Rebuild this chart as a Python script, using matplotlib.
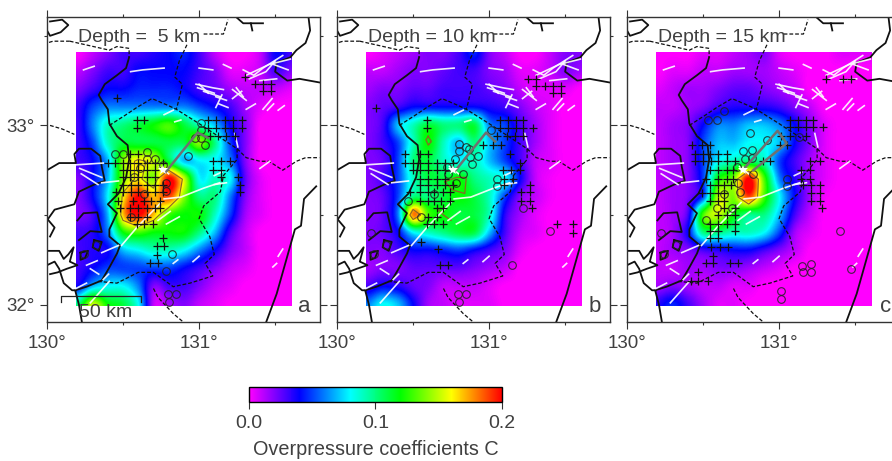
#!/usr/bin/env python3
"""
Overpressure coefficients at three depths, Kumamoto area map panels
"""

import numpy as np
import matplotlib
matplotlib.use('Agg')
import matplotlib.pyplot as plt
from matplotlib.cm import ScalarMappable
from matplotlib.colors import LinearSegmentedColormap, Normalize
from matplotlib.patches import Rectangle

plt.rcParams['font.family'] = ['Liberation Sans', 'DejaVu Sans']

# grid of the coloured field, values in units of 0.01, first row is the north one
grid_lons = [130.2, 130.3, 130.4, 130.5, 130.6, 130.7, 130.8, 130.9, 131.0, 131.1, 131.2, 131.3, 131.4, 131.5, 131.6]
grid_lats = [33.4, 33.3, 33.2, 33.1, 33.0, 32.9, 32.8, 32.7, 32.6, 32.5, 32.4, 32.3, 32.2, 32.1, 32.0]

field_a = [
    [0, 1, 2, 3, 3, 3.5, 4, 4.5, 3, 1, 0, 0, 1, 4, 3],
    [1, 2, 3, 3, 4, 4, 4, 4, 3, 2, 0.5, 0.5, 1, 3, 2],
    [2, 3, 4, 4, 4.5, 4.5, 4.5, 4, 3, 2.5, 1.5, 1, 1, 1, 0.5],
    [3, 5, 6, 6, 6, 6, 6, 6, 5, 4, 3, 1.5, 0.5, 0, 0],
    [3, 6, 9, 10, 11, 12, 13, 11, 9, 7, 4, 2, 0, 0, 0],
    [3, 5, 9, 11, 11, 11, 11, 11, 14, 10, 5, 2, 0, 0, 0],
    [3, 4, 7, 14, 16, 15, 11, 7, 8, 8, 6, 2, 0, 0, 0],
    [2, 4, 7, 14, 16, 14, 20, 15, 8, 9, 8, 2.5, 0.5, 0, 0],
    [2, 4, 8, 16, 20, 17, 19, 14, 10, 10, 6, 2, 0.5, 0, 0],
    [2, 3, 7, 17, 20, 17, 13, 12, 12, 9, 5, 1.5, 0.5, 0, 0],
    [3, 3.5, 6, 12, 13, 12, 12, 12, 10, 7, 3, 1, 0, 0, 0],
    [3, 3.5, 4, 7, 8, 9, 9, 8, 6, 4, 2, 1, 0, 0, 0],
    [3, 4, 5, 5, 5, 5, 5, 4, 3, 2, 1, 0.5, 0, 0, 0],
    [4, 7, 8, 8, 6, 2, 3, 3, 2, 1, 0.5, 0, 0, 0, 0],
    [10, 15, 12, 11, 8, 1, 1.5, 2, 1, 0.5, 0, 0, 0, 0, 0],
]
field_b = [
    [0, 0.5, 1, 1.5, 2, 2, 3, 4.5, 2, 1, 0, 0, 1, 2, 2],
    [1, 1, 1.5, 2, 2, 2.5, 3, 3, 2, 1.5, 0.5, 0.5, 1, 2, 1.5],
    [1.5, 2, 2, 2.5, 2.5, 3, 3, 3, 2.5, 2, 1, 0.5, 0.5, 0.5, 0],
    [2, 2.5, 3, 4, 4, 4, 4, 4, 3.5, 3, 2, 1, 0.5, 0, 0],
    [2, 3, 7, 9, 11, 10, 10, 11, 6, 5, 3, 1.5, 0.5, 0, 0],
    [2, 3, 5, 9, 12, 9, 7, 10, 7, 5, 3, 1.5, 0.5, 0, 0],
    [2, 2.5, 5, 10, 11, 9, 8, 9, 7, 5, 3, 1, 0.5, 0, 0],
    [2, 3, 5, 9, 11, 11, 12, 10, 9, 8, 4, 1, 0.2, 0, 0],
    [2, 2.5, 5, 10, 10, 11, 12, 11, 9, 5, 2, 1, 0.2, 0, 0],
    [2, 2.5, 6, 18, 13, 12, 11, 11, 9, 3.5, 1.5, 0.5, 0, 0, 0],
    [2, 2.5, 4, 8, 9, 10, 11, 11, 7, 3, 1, 0.5, 0, 0, 0],
    [2, 2, 3, 4, 4, 4.5, 5, 4, 3, 2, 0.5, 0, 0, 0, 0],
    [1.5, 2, 2, 2.5, 2.5, 2.5, 2.5, 2, 1.5, 1, 0, 0, 0, 0, 0],
    [3, 4, 3.5, 2.5, 2, 1, 1, 1, 0.5, 0, 0, 0, 0, 0, 0],
    [6, 8, 7, 4, 1.5, 1, 0.5, 0.5, 0.5, 0, 0, 0, 0, 0, 0],
]
field_c = [
    [0, 0, 0, 0.5, 0.5, 1, 1.5, 2, 0.5, 0, 0, 0, 0.5, 0.5, 0.5],
    [0, 0.5, 0.5, 1, 1, 1.5, 1.5, 1.5, 1, 0.5, 0, 0, 0, 0, 0],
    [0.5, 1, 1.5, 1.5, 2, 2.5, 2.5, 2, 1.5, 1, 0, 0, 0, 0, 0],
    [1, 1, 1.5, 2, 3, 3.5, 3.5, 3.5, 3, 2, 1, 0, 0, 0, 0],
    [1, 1.5, 2, 4, 6, 6, 7, 7, 6, 4, 2, 0.5, 0, 0, 0],
    [1, 1.5, 2, 5, 7, 7, 8, 8, 7, 4, 2, 0.5, 0, 0, 0],
    [1, 1.5, 2, 5, 8, 9, 10, 9, 5, 3, 1.5, 0.5, 0, 0, 0],
    [1, 1.5, 2, 5, 12, 14, 20, 13, 6, 3.5, 1.5, 0.5, 0, 0, 0],
    [1, 1.5, 2, 5, 15, 14, 19, 13, 8, 4, 1.5, 0.2, 0, 0, 0],
    [1, 1.5, 3, 13, 15, 12, 10, 10, 7, 3, 1, 0, 0, 0, 0],
    [1, 1.5, 4, 10, 10, 9, 9, 8, 5, 1.5, 0.5, 0, 0, 0, 0],
    [1, 1.5, 2, 3, 3.5, 4, 4, 3, 2, 1, 0, 0, 0, 0, 0],
    [1, 1, 1.5, 1.5, 2, 2, 1.5, 1, 0.5, 0, 0, 0, 0, 0, 0],
    [1.5, 2, 1.5, 1, 1, 0.5, 0.5, 0, 0, 0, 0, 0, 0, 0, 0],
    [3.5, 4.5, 3, 1.5, 0.5, 0.5, 0, 0, 0, 0, 0, 0, 0, 0, 0],
]

# coastlines, lon/lat
coast_lines = [
    [(130.54, 33.38), (130.52, 33.32), (130.46, 33.28), (130.38, 33.23), (130.34, 33.17), (130.36, 33.14),
     (130.40, 33.09), (130.41, 33.01), (130.46, 32.94), (130.53, 32.89), (130.54, 32.81), (130.52, 32.71),
     (130.47, 32.62), (130.40, 32.56), (130.46, 32.51), (130.41, 32.42), (130.41, 32.38), (130.48, 32.33),
     (130.46, 32.285), (130.405, 32.20), (130.36, 32.135), (130.26, 32.10), (130.185, 32.08), (130.21, 32.0),
     (130.23, 31.9)],
    [(130.0, 32.75), (130.08, 32.79), (130.19, 32.79), (130.18, 32.84), (130.21, 32.87), (130.29, 32.87),
     (130.35, 32.83), (130.36, 32.77), (130.38, 32.69), (130.31, 32.67), (130.21, 32.63), (130.18, 32.56),
     (130.05, 32.53), (130.0, 32.47)],
    [(130.0, 33.53), (130.02, 33.50), (130.09, 33.52), (130.14, 33.56), (130.10, 33.59), (130.02, 33.58)],
    [(131.25, 33.60), (131.29, 33.57), (131.42, 33.57)],
    [(131.34, 33.57), (131.35, 33.53)],
    [(131.72, 33.60), (131.73, 33.53), (131.70, 33.46), (131.64, 33.42), (131.60, 33.38), (131.51, 33.35),
     (131.50, 33.30), (131.58, 33.25), (131.66, 33.26), (131.79, 33.24)],
    [(131.44, 31.90), (131.51, 32.06), (131.61, 32.36), (131.63, 32.42), (131.67, 32.44), (131.69, 32.59),
     (131.77, 32.66)],
    [(130.0, 32.30), (130.08, 32.30), (130.11, 32.255), (130.14, 32.28), (130.175, 32.32), (130.15, 32.24),
     (130.20, 32.22), (130.13, 32.20), (130.07, 32.18), (130.02, 32.17)],
    [(130.0, 32.22), (130.05, 32.24), (130.08, 32.20), (130.11, 32.12), (130.165, 32.08), (130.19, 32.08)],
    [(130.22, 32.29), (130.27, 32.30), (130.25, 32.26), (130.22, 32.25), (130.22, 32.29)],
    [(130.31, 32.36), (130.36, 32.35), (130.34, 32.30), (130.30, 32.32), (130.31, 32.36)],
    [(130.2, 32.47), (130.24, 32.51), (130.33, 32.515), (130.36, 32.405), (130.285, 32.41), (130.21, 32.36)],
    [(130.0, 32.48), (130.05, 32.43), (130.02, 32.38)],
]

# prefecture borders
border_lines = [
    [(130.02, 33.0), (130.10, 32.98), (130.18, 32.95)],
    [(130.41, 33.0), (130.52, 33.06), (130.59, 33.10), (130.69, 33.15), (130.80, 33.11), (130.85, 33.09),
     (131.0, 33.01), (131.25, 32.87), (131.31, 32.82), (131.40, 32.80), (131.46, 32.80), (131.55, 32.75),
     (131.64, 32.80), (131.70, 32.82), (131.79, 32.82)],
    [(130.92, 33.45), (130.87, 33.36), (130.84, 33.27), (130.89, 33.23), (130.86, 33.12), (130.85, 33.09)],
    [(131.25, 32.87), (131.25, 32.81), (131.16, 32.72), (131.14, 32.63), (131.03, 32.55), (131.0, 32.48),
     (131.07, 32.38), (131.10, 32.28), (131.04, 32.23), (131.09, 32.16), (130.94, 32.12), (130.83, 32.10),
     (130.70, 32.18), (130.60, 32.18), (130.46, 32.12), (130.33, 32.13)],
    [(130.70, 32.09), (130.73, 32.04), (130.83, 31.95), (130.90, 31.90)],
    [(130.15, 33.47), (130.04, 33.47), (130.0, 33.46)],
    [(130.15, 33.47), (130.41, 33.42), (130.46, 33.44), (130.54, 33.43), (130.54, 33.38)],
    [(131.03, 33.51), (131.16, 33.51), (131.19, 33.59)],
]

# active faults, drawn white
fault_lines = [
    [(130.24, 33.31), (130.31, 33.33)],
    [(130.55, 33.30), (130.63, 33.31), (130.77, 33.32)],
    [(131.00, 33.32), (131.09, 33.31)],
    [(131.16, 33.34), (131.21, 33.32)],
    [(131.29, 33.31), (131.36, 33.28), (131.42, 33.32), (131.55, 33.39)],
    [(131.31, 33.28), (131.46, 33.34), (131.60, 33.37)],
    [(131.33, 33.26), (131.44, 33.30), (131.50, 33.36)],
    [(131.40, 33.25), (131.51, 33.26)],
    [(131.49, 33.34), (131.585, 33.31)],
    [(130.98, 33.23), (131.09, 33.21), (131.16, 33.20)],
    [(130.99, 33.21), (131.10, 33.18)],
    [(131.03, 33.19), (131.14, 33.16)],
    [(131.00, 33.23), (131.06, 33.18)],
    [(131.11, 33.16), (131.18, 33.14)],
    [(131.11, 33.10), (131.15, 33.17)],
    [(131.13, 33.12), (131.19, 33.10)],
    [(131.22, 33.20), (131.31, 33.14)],
    [(131.245, 33.21), (131.29, 33.16)],
    [(131.22, 33.15), (131.28, 33.19)],
    [(131.31, 33.09), (131.37, 33.12)],
    [(131.42, 33.09), (131.48, 33.15)],
    [(131.45, 33.085), (131.49, 33.12)],
    [(131.52, 33.085), (131.56, 33.11)],
    [(130.77, 33.06), (130.83, 33.085)],
    [(130.84, 33.02), (130.88, 33.03)],
    [(131.235, 32.955), (131.255, 32.88)],
    [(130.49, 32.33), (130.59, 32.43), (130.75, 32.57)],
    [(130.77, 32.59), (130.88, 32.60), (131.03, 32.65), (131.135, 32.68)],
    [(130.73, 32.47), (130.81, 32.52)],
    [(130.785, 32.45), (130.87, 32.49)],
    [(131.40, 32.76), (131.465, 32.80)],
    [(131.485, 32.21), (131.51, 32.23)],
    [(131.52, 32.27), (131.55, 32.31)],
    [(130.83, 32.23), (130.86, 32.25)],
    [(130.96, 32.24), (131.00, 32.27)],
    [(130.19, 32.78), (130.37, 32.79)],
    [(130.215, 32.76), (130.36, 32.71)],
    [(130.225, 32.73), (130.335, 32.67)],
    [(130.36, 32.68), (130.47, 32.69)],
    [(130.26, 32.22), (130.33, 32.245)],
    [(130.285, 32.20), (130.34, 32.17)],
    [(130.36, 32.29), (130.47, 32.33)],
    [(130.37, 32.14), (130.405, 32.17)],
    [(130.19, 32.09), (130.26, 32.12)],
    [(130.285, 32.01), (130.41, 32.13)],
    [(131.10, 32.72), (131.15, 32.74)],
    [(131.10, 32.67), (131.18, 32.68)],
    [(130.74, 32.77), (130.80, 32.73)],
]

# crosses as (lat, lons of that row)
crosses_a = [
    (33.155, [130.46]),
    (33.03, [130.59, 130.64, 131.06, 131.11, 131.17, 131.22, 131.28]),
    (32.985, [130.59, 131.06, 131.11, 131.17, 131.22, 131.28]),
    (32.94, [131.07, 131.125, 131.18, 131.235]),
    (32.84, [130.545, 130.60]),
    (32.80, [131.09, 131.145, 131.20]),
    (32.79, [130.40, 130.445, 130.50, 130.545, 130.60, 130.655, 130.71, 130.76]),
    (32.75, [130.50, 130.545, 130.60, 130.655, 130.71, 131.09, 131.145]),
    (32.71, [130.50, 130.545, 130.60, 130.655, 130.71, 131.145, 131.255]),
    (32.67, [130.50, 130.555, 130.60, 130.655, 130.71, 130.76, 131.27]),
    (32.63, [130.455, 130.50, 130.555, 130.60, 130.655, 130.71, 130.76, 131.27]),
    (32.58, [130.47, 130.565, 130.64, 130.685, 130.74]),
    (32.54, [130.48, 130.545, 130.60, 130.655, 130.71, 130.74]),
    (32.49, [130.545, 130.60, 130.655]),
    (32.45, [130.59, 130.64, 130.70]),
    (32.37, [130.76]),
    (32.325, [130.72, 130.77]),
    (32.275, [130.72]),
    (32.23, [130.675, 130.73]),
    (33.27, [131.30]),
    (33.23, [131.365, 131.42, 131.475]),
    (33.19, [131.42, 131.475]),
]
crosses_b = [
    (33.095, [130.255]),
    (33.03, [130.59, 131.07, 131.125, 131.18, 131.22]),
    (32.985, [130.59, 131.07, 131.125, 131.18, 131.22, 131.29]),
    (32.94, [131.05, 131.115, 131.17, 131.22]),
    (32.89, [130.96, 131.025, 131.08]),
    (32.84, [130.445, 130.545, 130.60, 131.135]),
    (32.79, [130.445, 130.50, 130.545, 130.60, 130.655, 130.71, 130.76, 131.20]),
    (32.75, [130.50, 130.545, 130.60, 130.655, 130.71, 131.09, 131.145, 131.20]),
    (32.70, [130.545, 130.60, 130.655, 130.71, 131.10, 131.16]),
    (32.67, [130.545, 130.60, 130.655, 130.71, 130.76, 131.10, 131.27]),
    (32.63, [130.48, 130.545, 130.60, 130.64, 130.70, 130.74, 131.21, 131.27]),
    (32.58, [130.545, 130.60, 130.64, 130.685, 130.74, 131.21, 131.27]),
    (32.54, [130.655, 130.70, 131.28]),
    (32.49, [130.60, 130.655]),
    (32.45, [130.59, 130.64, 130.70, 131.445, 131.55]),
    (32.40, [131.55]),
    (32.35, [130.55]),
    (32.31, [130.665]),
    (32.22, [130.675, 130.73]),
    (33.26, [131.255, 131.31]),
    (33.22, [131.31, 131.365, 131.42, 131.475]),
    (33.18, [131.42, 131.475]),
]
crosses_c = [
    (33.03, [131.07, 131.125, 131.18, 131.22]),
    (32.99, [131.07, 131.125, 131.18, 131.22, 131.29]),
    (32.94, [131.015, 131.07, 131.18]),
    (32.89, [130.43, 130.49, 130.545, 131.005, 131.05]),
    (32.84, [130.445, 130.50, 130.545, 130.60, 130.655]),
    (32.80, [130.445, 130.50, 130.555, 130.60, 130.655, 130.71, 130.895, 130.94, 131.20, 131.27]),
    (32.75, [130.545, 130.60, 130.655, 130.70, 131.145, 131.20]),
    (32.70, [130.52, 130.60, 130.655, 130.70, 131.145, 131.20]),
    (32.67, [130.545, 130.60, 130.64, 130.685, 131.16, 131.21, 131.27]),
    (32.625, [130.49, 130.545, 130.60, 130.64, 131.21, 131.27]),
    (32.58, [130.545, 130.60, 130.64, 131.21, 131.27]),
    (32.54, [130.64, 130.71, 131.28]),
    (32.50, [130.60, 130.655, 130.71]),
    (32.45, [130.545, 130.60, 130.655, 130.71]),
    (32.41, [130.545, 130.60, 130.71]),
    (32.37, [130.545, 130.60]),
    (32.32, [130.555, 130.61, 130.665]),
    (32.27, [130.565]),
    (32.23, [130.52, 130.565, 130.675, 130.73]),
    (32.18, [130.47]),
    (32.13, [130.42, 130.47, 130.53]),
    (33.26, [131.31, 131.42, 131.475]),
]

circles_a = [
    (130.445, 32.84), (130.50, 32.84), (130.66, 32.85), (130.61, 32.76), (130.66, 32.81), (130.71, 32.81),
    (130.57, 32.71), (130.76, 32.78), (130.785, 32.68), (130.785, 32.635), (131.015, 33.015), (131.015, 32.975),
    (130.97, 32.93), (131.015, 32.93), (131.04, 32.89), (130.93, 32.83), (130.64, 32.62), (130.555, 32.49),
    (130.825, 32.285), (130.78, 32.19), (130.795, 32.06), (130.85, 32.06), (130.80, 32.015), (130.24, 32.28),
    (130.325, 32.33),
]
circles_b = [
    (131.015, 32.975), (130.80, 32.895), (130.85, 32.88), (130.805, 32.86), (130.87, 32.87), (130.875, 32.825),
    (130.93, 32.83), (130.885, 32.785), (130.775, 32.815), (130.72, 32.77), (130.73, 32.73), (130.83, 32.73),
    (130.78, 32.68), (131.05, 32.70), (131.05, 32.66), (131.22, 32.54), (131.40, 32.41), (131.15, 32.22),
    (130.795, 32.06), (130.85, 32.06), (130.80, 32.015), (130.64, 32.62), (130.555, 32.49), (130.47, 32.58),
    (130.24, 32.28), (130.325, 32.33), (130.225, 32.40),
]
circles_c = [
    (130.53, 33.03), (130.59, 33.03), (130.64, 33.08), (130.81, 32.955), (130.92, 32.92), (131.13, 32.935),
    (130.76, 32.86), (130.82, 32.865), (130.825, 32.82), (130.72, 32.77), (130.775, 32.815), (130.83, 32.73),
    (130.73, 32.68), (130.74, 32.63), (131.05, 32.70), (131.05, 32.66), (130.64, 32.62), (130.69, 32.54),
    (130.59, 32.54), (130.52, 32.47), (131.40, 32.41), (131.15, 32.215), (131.21, 32.225), (131.155, 32.18),
    (131.21, 32.18), (131.475, 32.20), (131.01, 32.075), (131.015, 32.03), (130.24, 32.28), (130.325, 32.33),
    (130.225, 32.40),
]

# grey outline of the fault plane in each panel
plane_a = [(130.78, 32.74), (130.99, 32.96), (131.06, 32.93)]
plane_b = [(130.78, 32.75), (130.98, 32.96), (131.04, 32.91)]
plane_c = [(130.76, 32.75), (130.99, 32.97), (131.05, 32.90), (130.83, 32.75)]

# brown outlines in panel b that stay apart from the level drawn for all panels
extra_outlines_b = [
    [(130.71, 32.685), (130.785, 32.71), (130.85, 32.71), (130.84, 32.62), (130.76, 32.64), (130.71, 32.685)],
    [(130.665, 32.53), (130.70, 32.50), (130.75, 32.47)],
    [(130.60, 32.94), (130.62, 32.91), (130.60, 32.89), (130.585, 32.92), (130.60, 32.94)],
]

epicentre = (130.76, 32.75)

depth_labels = ['Depth =  5 km', 'Depth = 10 km', 'Depth = 15 km']
panel_letters = ['a', 'b', 'c']
cbar_ticks = [0.0, 0.1, 0.2]
cbar_label = 'Overpressure coefficients C'

FIG_W, FIG_H = 892, 461
TEXT = '#404040'
BROWN = '#8a6428'
LON_MIN, LON_MAX = 130.0, 131.795
LAT_MIN, LAT_MAX = 31.903, 33.605

rainbow = LinearSegmentedColormap.from_list(
    'rainbow_c', ['#ff00ff', '#0000ff', '#00ffff', '#00ff00', '#ffff00', '#ff0000'])


def px_axes(fig, left, top, right, bottom):
    """Axes placed by pixel edges of the figure."""
    return fig.add_axes([left / FIG_W, 1 - bottom / FIG_H, (right - left) / FIG_W, (bottom - top) / FIG_H])


def draw_panel(ax, field, crosses, circles, plane, depth, letter, show_lat):
    im = ax.imshow(np.array(field) / 100, cmap=rainbow, vmin=0, vmax=0.2, interpolation='catrom',
                   extent=(130.15, 131.65, 31.95, 33.45), aspect='auto', zorder=1)
    im.set_clip_path(Rectangle((130.19, 31.99), 1.415, 1.42, transform=ax.transData))
    ax.contour(grid_lons, grid_lats, np.array(field), levels=[15.5], colors=BROWN, linewidths=0.8, zorder=2)

    for line in border_lines:
        xs, ys = zip(*line)
        ax.plot(xs, ys, color='#111111', lw=0.9, ls=(0, (3, 1.6)), zorder=3)
    for line in coast_lines:
        xs, ys = zip(*line)
        ax.plot(xs, ys, color='#111111', lw=1.3, zorder=3)
    for line in fault_lines:
        xs, ys = zip(*line)
        ax.plot(xs, ys, color='white', lw=1.2, alpha=0.9, zorder=4)

    for lat, lons in crosses:
        ax.plot(lons, [lat] * len(lons), '+', color='#111111', ms=5.5, mew=0.9, zorder=5)
    xs, ys = zip(*circles)
    ax.plot(xs, ys, 'o', mfc='none', mec='#222222', ms=5.5, mew=0.8, alpha=0.85, zorder=5)

    xs, ys = zip(*plane)
    ax.plot(xs, ys, color='#707070', lw=1.8, zorder=6)
    ax.plot(*epicentre, '*', color='white', ms=7, mew=0, zorder=7)

    ax.set_xlim(LON_MIN, LON_MAX)
    ax.set_ylim(LAT_MIN, LAT_MAX)
    ax.set_xticks([130, 131])
    ax.set_xticks([130.5, 131.5], minor=True)
    ax.set_yticks([32, 33])
    ax.set_yticks([32.5, 33.5], minor=True)
    ax.set_xticklabels(['130°', '131°'], fontsize=13.5, color=TEXT)
    ax.set_yticklabels(['32°', '33°'] if show_lat else ['', ''], fontsize=13.5, color=TEXT)
    ax.tick_params(which='major', direction='out', length=5, width=0.8, top=True, right=True, color='#333333', pad=4)
    ax.tick_params(which='minor', direction='out', length=2.5, width=0.8, top=True, right=True, color='#333333')
    for spine in ax.spines.values():
        spine.set_linewidth(1.0)
        spine.set_color('#333333')
        spine.set_zorder(8)

    ax.text(130.205, 33.49, depth, fontsize=14, color=TEXT, va='center', ha='left', zorder=9)
    ax.text(131.735, 31.99, letter, fontsize=16, color=TEXT, va='center', ha='right', zorder=9)


def main():
    fig = plt.figure(figsize=(FIG_W / 100, FIG_H / 100), dpi=100, facecolor='white')

    lefts = [47, 337, 627]
    fields = [field_a, field_b, field_c]
    crosses = [crosses_a, crosses_b, crosses_c]
    circles = [circles_a, circles_b, circles_c]
    planes = [plane_a, plane_b, plane_c]

    for i, left in enumerate(lefts):
        ax = px_axes(fig, left, 17, left + 273, 322)
        draw_panel(ax, fields[i], crosses[i], circles[i], planes[i], depth_labels[i], panel_letters[i], i == 0)
        if i == 0:
            # scale bar
            ax.plot([130.09, 130.09, 130.62, 130.62], [32.015, 32.05, 32.05, 32.015], color='#222222', lw=0.9, zorder=6)
            ax.text(130.21, 31.955, '50 km', fontsize=14, color=TEXT, va='center', ha='left', zorder=9)
        if i == 1:
            for line in extra_outlines_b:
                xs, ys = zip(*line)
                ax.plot(xs, ys, color=BROWN, lw=0.9, zorder=2)

    cax = px_axes(fig, 249, 387, 502, 402)
    cbar = fig.colorbar(ScalarMappable(Normalize(0, 0.2), rainbow), cax=cax, orientation='horizontal')
    cbar.set_ticks(cbar_ticks)
    cbar.set_ticklabels([f'{t:.1f}' for t in cbar_ticks], fontsize=14, color=TEXT)
    cbar.ax.tick_params(length=5, width=0.8, color='#333333', pad=4)
    cbar.outline.set_linewidth(1.0)
    cbar.set_label(cbar_label, fontsize=14.3, color=TEXT, labelpad=6)

    fig.savefig('out.png', dpi=100)
    plt.close(fig)


if __name__ == "__main__":
    main()
